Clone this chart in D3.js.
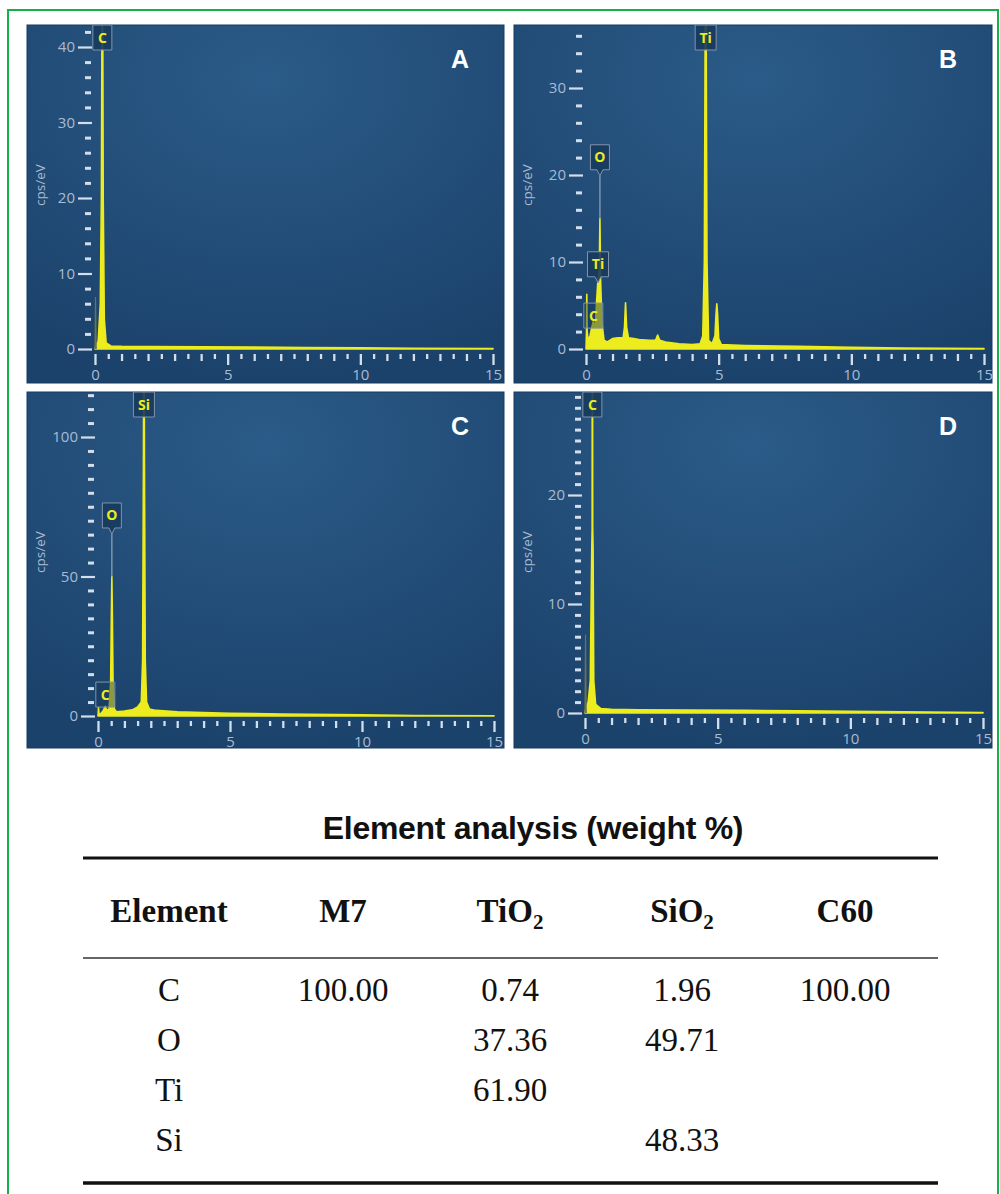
<!DOCTYPE html>
<html>
<head>
<meta charset="utf-8">
<script src="https://cdn.jsdelivr.net/npm/d3@7"></script>
<style>
  body { margin: 0; background: #fff; }
  svg { display: block; }
</style>
</head>
<body>
<script>
// ---- data ----
var panelNames = ["A", "B", "C", "D"];
var yMajorTicks = [[0, 10, 20, 30, 40], [0, 10, 20, 30], [0, 50, 100], [0, 10, 20]];
var yMinorStep = [2, 2, 5, 1];
var xMajorTicks = [0, 5, 10, 15];

// [keV, cps/eV]
var spectrumM7 = [[0, 0], [0.05, 0.6], [0.12, 1], [0.2, 6], [0.24, 20], [0.265, 45], [0.277, 90], [0.29, 45], [0.31, 20],
  [0.35, 4], [0.42, 0.8], [0.6, 0.4], [1, 0.35], [2, 0.32], [4, 0.3], [6, 0.25], [8, 0.2], [10, 0.15], [12, 0.1], [15, 0.05]];
var spectrumTiO2 = [[0, 0], [0.02, 2], [0.03, 6.3], [0.045, 2], [0.08, 1], [0.15, 1.5], [0.22, 2.5], [0.277, 3.2], [0.32, 2.5],
  [0.36, 3], [0.4, 5.5], [0.452, 8], [0.5, 9], [0.525, 15], [0.55, 8], [0.6, 3], [0.68, 1], [0.8, 0.8], [1.0, 1.2],
  [1.2, 1.3], [1.4, 1.3], [1.45, 2.5], [1.49, 5.3], [1.53, 2.5], [1.6, 1.3], [1.8, 1.2], [2.0, 1.1], [2.4, 1.0],
  [2.62, 1.0], [2.7, 1.6], [2.78, 1.0], [3.0, 0.8], [3.5, 0.6], [4.0, 0.5], [4.3, 0.6], [4.4, 1.5], [4.46, 10],
  [4.49, 35], [4.51, 70], [4.53, 35], [4.56, 10], [4.62, 1], [4.75, 0.6], [4.86, 1.5], [4.9, 4], [4.93, 5.2],
  [4.96, 4], [5.0, 1.2], [5.1, 0.5], [6, 0.4], [8, 0.3], [10, 0.2], [12, 0.1], [15, 0.05]];
var spectrumSiO2 = [[0, 0], [0.02, 3], [0.04, 0.5], [0.12, 1], [0.2, 2], [0.277, 3.5], [0.33, 2], [0.42, 2.5], [0.48, 12],
  [0.505, 35], [0.525, 50], [0.545, 35], [0.57, 12], [0.62, 2.5], [0.7, 1.5], [1.0, 1.8], [1.3, 2.2], [1.5, 3.2],
  [1.64, 5], [1.69, 20], [1.72, 90], [1.74, 160], [1.76, 90], [1.79, 20], [1.84, 5], [1.95, 2.5], [2.2, 2], [3, 1.5],
  [4, 1.2], [5, 1], [7, 0.7], [10, 0.4], [12, 0.2], [15, 0.1]];
var spectrumC60 = [[0, 0], [0.05, 0.6], [0.12, 1], [0.2, 3], [0.24, 12], [0.255, 15], [0.27, 17], [0.277, 60], [0.29, 17],
  [0.305, 15], [0.33, 3], [0.4, 0.8], [0.6, 0.4], [1, 0.35], [2, 0.3], [4, 0.28], [6, 0.24], [8, 0.2], [10, 0.15],
  [12, 0.1], [15, 0.05]];
var spectra = [spectrumM7, spectrumTiO2, spectrumSiO2, spectrumC60];

// zero (noise) peak, drawn dark
var noiseM7 = [[0, 0], [0.02, 6.9], [0.045, 0]];
var noiseC60 = [[0, 0], [0.02, 7.2], [0.045, 0]];
var noises = [noiseM7, null, null, noiseC60];

// element markers: box = cps of box bottom (none -> at top), peak = leader end
var labelsM7 = [{el: "C", kev: 0.277}];
var labelsTiO2 = [{el: "O", kev: 0.525, box: 20.6, peak: 15}, {el: "Ti", kev: 0.452, box: 8.3, peak: 8},
  {el: "C", kev: 0.277, box: 2.4}, {el: "Ti", kev: 4.51}];
var labelsSiO2 = [{el: "Si", kev: 1.74}, {el: "O", kev: 0.525, box: 67.4, peak: 50}, {el: "C", kev: 0.277, box: 3.2}];
var labelsC60 = [{el: "C", kev: 0.277}];
var labels = [labelsM7, labelsTiO2, labelsSiO2, labelsC60];

// table
var tableTitle = "Element analysis (weight %)";
var tableHeader = ["Element", "M7", "TiO|2", "SiO|2", "C60"];
var tableElements = ["C", "O", "Ti", "Si"];
var colM7 = ["100.00", "", "", ""];
var colTiO2 = ["0.74", "37.36", "61.90", ""];
var colSiO2 = ["1.96", "49.71", "", "48.33"];
var colC60 = ["100.00", "", "", ""];

// ---- layout ----
const WIDTH = 1000;
const HEIGHT = 1194;
var layout = [
  {left: 27, top: 25, right: 504, bottom: 383, x0: 95, x15: 493, y0: 349, ppu: 7.55},
  {left: 514, top: 25, right: 992, bottom: 383, x0: 586, x15: 984, y0: 349, ppu: 8.7},
  {left: 27, top: 392, right: 504, bottom: 748, x0: 98, x15: 494, y0: 716, ppu: 2.79},
  {left: 514, top: 392, right: 992, bottom: 748, x0: 585, x15: 983, y0: 713, ppu: 10.9}
];
var YELLOW = "#ecec1e";
var TICK = "#d3deec";
var LABEL = "#a9bbd1";
var SANS = "'Open Sans', sans-serif";

var svg = d3.select("body").append("svg")
  .attr("width", WIDTH)
  .attr("height", HEIGHT);

var defs = svg.append("defs");
var grad = defs.append("radialGradient").attr("id", "bg")
  .attr("cx", "50%").attr("cy", "15%").attr("r", "85%");
grad.append("stop").attr("offset", "0%").attr("stop-color", "#2b5b88");
grad.append("stop").attr("offset", "100%").attr("stop-color", "#1b426b");

// green frame
svg.append("rect")
  .attr("x", 8).attr("y", 10).attr("width", 990).attr("height", 1200)
  .attr("fill", "none").attr("stroke", "#14b04a").attr("stroke-width", 2);

var drawPanel = function (i) {
  var L = layout[i];
  var x = d3.scaleLinear().domain([0, 15]).range([L.x0, L.x15]);
  var y = d3.scaleLinear().domain([0, (L.y0 - L.top) / L.ppu]).range([L.y0, L.top]);
  var g = svg.append("g");

  g.append("rect")
    .attr("x", L.left).attr("y", L.top)
    .attr("width", L.right - L.left).attr("height", L.bottom - L.top)
    .attr("fill", "url(#bg)").attr("stroke", "#173a60").attr("stroke-width", 1);

  defs.append("clipPath").attr("id", "clip" + i)
    .append("rect")
    .attr("x", L.x0 - 3).attr("y", L.top)
    .attr("width", L.right - L.x0 + 2).attr("height", L.y0 - L.top + 1);

  // y axis
  var yTop = y.domain()[1];
  var minors = d3.range(0, yTop, yMinorStep[i]).filter(function (v) {
    return yMajorTicks[i].indexOf(v) < 0;
  });
  var yMinor = g.append("g")
    .attr("transform", "translate(" + (L.x0 - 4) + ",0)")
    .call(d3.axisLeft(y).tickValues(minors).tickSize(6).tickFormat(""));
  yMinor.selectAll("line").attr("stroke", TICK).attr("stroke-width", 3);

  var yMajor = g.append("g")
    .attr("transform", "translate(" + (L.x0 - 3) + ",0)")
    .call(d3.axisLeft(y).tickValues(yMajorTicks[i]).tickSize(14).tickPadding(3));
  yMajor.selectAll("line").attr("stroke", TICK).attr("stroke-width", 2.2);
  yMajor.selectAll("text").attr("fill", LABEL)
    .style("font-family", SANS).style("font-size", "15px");

  g.selectAll(".domain").remove();

  g.append("text")
    .attr("transform", "translate(" + (L.left + 18) + "," + (L.top + 160) + ") rotate(-90)")
    .attr("text-anchor", "middle")
    .attr("fill", LABEL)
    .style("font-family", SANS).style("font-size", "13.5px")
    .text("cps/eV");

  // x axis
  var halves = d3.range(0.5, 15, 1);
  var ints = d3.range(1, 15).filter(function (v) { return xMajorTicks.indexOf(v) < 0; });
  var xa = g.append("g").attr("transform", "translate(0," + (L.y0 + 5) + ")");
  xa.append("g").call(d3.axisBottom(x).tickValues(halves).tickSize(5).tickFormat(""));
  xa.append("g").call(d3.axisBottom(x).tickValues(ints).tickSize(7).tickFormat(""));
  xa.append("g").call(d3.axisBottom(x).tickValues(xMajorTicks).tickSize(11).tickPadding(4));
  xa.selectAll(".domain").remove();
  xa.selectAll("line").attr("stroke", TICK).attr("stroke-width", 2.3);
  xa.selectAll("text").attr("fill", LABEL)
    .style("font-family", SANS).style("font-size", "15px");

  // spectrum
  var plot = g.append("g").attr("clip-path", "url(#clip" + i + ")");
  var area = d3.area()
    .x(function (d) { return x(d[0]); })
    .y0(y(0))
    .y1(function (d) { return y(d[1]); });
  plot.append("path")
    .attr("d", area(spectra[i]))
    .attr("fill", YELLOW)
    .attr("stroke", YELLOW)
    .attr("stroke-width", 1.6)
    .attr("stroke-linejoin", "round");

  if (noises[i]) {
    var line = d3.line()
      .x(function (d) { return x(d[0]); })
      .y(function (d) { return y(d[1]); });
    plot.append("path")
      .attr("d", line(noises[i]))
      .attr("fill", "#1d3f5e")
      .attr("stroke", "#6d7350")
      .attr("stroke-width", 1.2);
  }

  // element markers
  labels[i].forEach(function (lb) {
    var cx = x(lb.kev);
    var w = lb.el.length > 1 ? 21 : 19;
    var h = 25;
    var bottom = lb.box === undefined ? L.top + h : y(lb.box);
    var tip = lb.peak !== undefined;
    var mg = g.append("g");
    if (tip) {
      mg.append("line")
        .attr("x1", cx).attr("x2", cx)
        .attr("y1", bottom + 6).attr("y2", y(lb.peak))
        .attr("stroke", "#8d9fb2").attr("stroke-width", 1.3);
    }
    var p = d3.path();
    p.moveTo(cx - w / 2, bottom - h);
    p.lineTo(cx + w / 2, bottom - h);
    p.lineTo(cx + w / 2, bottom);
    if (tip) {
      p.lineTo(cx + 3, bottom);
      p.lineTo(cx, bottom + 6);
      p.lineTo(cx - 3, bottom);
    }
    p.lineTo(cx - w / 2, bottom);
    p.closePath();
    mg.append("path")
      .attr("d", p.toString())
      .attr("fill", "#183a5e")
      .attr("fill-opacity", lb.box !== undefined && !tip ? 0.45 : 0.9)
      .attr("stroke", "#8194aa")
      .attr("stroke-width", 1);
    mg.append("text")
      .attr("x", cx).attr("y", bottom - h / 2)
      .attr("dy", "0.36em")
      .attr("text-anchor", "middle")
      .attr("fill", YELLOW)
      .style("font-family", SANS)
      .style("font-size", "14px").style("font-weight", "bold")
      .text(lb.el);
  });

  g.append("text")
    .attr("x", L.right - 44).attr("y", L.top + 43)
    .attr("text-anchor", "middle")
    .attr("fill", "#ffffff")
    .style("font-family", "'Liberation Sans', Arial, sans-serif")
    .style("font-size", "25px").style("font-weight", "bold")
    .text(panelNames[i]);
};

d3.range(4).forEach(drawPanel);

// ---- table ----
var colX = [169, 343, 510, 682, 845];
var serif = "'Liberation Serif', 'Times New Roman', serif";
var t = svg.append("g");

t.append("text")
  .attr("x", 533).attr("y", 839)
  .attr("text-anchor", "middle")
  .style("font-family", "'Liberation Sans', Arial, sans-serif")
  .style("font-size", "32px").style("font-weight", "bold")
  .style("letter-spacing", "-0.3px")
  .attr("fill", "#111")
  .text(tableTitle);

t.append("line").attr("x1", 83).attr("x2", 938).attr("y1", 858).attr("y2", 858)
  .attr("stroke", "#111").attr("stroke-width", 3);
t.append("line").attr("x1", 83).attr("x2", 938).attr("y1", 958).attr("y2", 958)
  .attr("stroke", "#333").attr("stroke-width", 1.3);
t.append("line").attr("x1", 83).attr("x2", 938).attr("y1", 1183).attr("y2", 1183)
  .attr("stroke", "#111").attr("stroke-width", 3.5);

tableHeader.forEach(function (h, k) {
  var parts = h.split("|");
  var tx = t.append("text")
    .attr("x", colX[k]).attr("y", 922)
    .attr("text-anchor", "middle")
    .style("font-family", serif)
    .style("font-size", "33px").style("font-weight", "bold")
    .attr("fill", "#111");
  tx.append("tspan").text(parts[0]);
  if (parts[1]) {
    tx.append("tspan").attr("dy", 7).style("font-size", "21px").text(parts[1]);
  }
});

var columns = [tableElements, colM7, colTiO2, colSiO2, colC60];
tableElements.forEach(function (el, r) {
  columns.forEach(function (col, k) {
    if (!col[r]) return;
    t.append("text")
      .attr("x", colX[k]).attr("y", 1001 + r * 50)
      .attr("text-anchor", "middle")
      .style("font-family", serif)
      .style("font-size", "33px")
      .attr("fill", "#111")
      .text(col[r]);
  });
});
</script>
</body>
</html>
